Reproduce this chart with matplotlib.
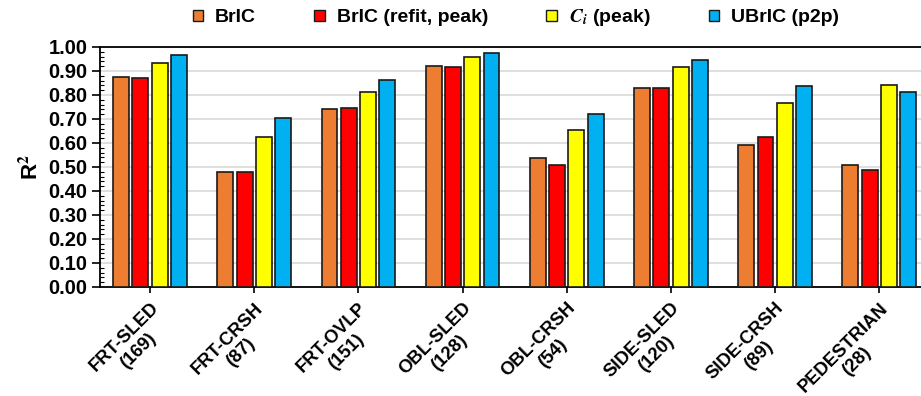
import matplotlib
matplotlib.use("Agg")
import matplotlib.pyplot as plt
import numpy as np
from matplotlib.patches import Patch
from matplotlib.ticker import MultipleLocator

plt.rcParams['font.family'] = ['Liberation Sans', 'DejaVu Sans']
plt.rcParams['font.weight'] = 'bold'
plt.rcParams['mathtext.fontset'] = 'stix'

categories = ["FRT-SLED\n(169)", "FRT-CRSH\n(87)", "FRT-OVLP\n(151)", "OBL-SLED\n(128)",
              "OBL-CRSH\n(54)", "SIDE-SLED\n(120)", "SIDE-CRSH\n(89)", "PEDESTRIAN\n(28)"]
series = ["BrIC", "BrIC (refit, peak)", "$C_i$ (peak)", "UBrIC (p2p)"]
bric = [0.876, 0.480, 0.740, 0.921, 0.539, 0.831, 0.592, 0.507]
bric_refit = [0.869, 0.480, 0.747, 0.915, 0.507, 0.831, 0.625, 0.488]
ci_peak = [0.935, 0.625, 0.811, 0.960, 0.656, 0.915, 0.765, 0.843]
ubric = [0.968, 0.703, 0.862, 0.974, 0.721, 0.947, 0.836, 0.811]
colors = ["#ED7D31", "#FF0000", "#FFFF00", "#00B0F0"]

fig = plt.figure(figsize=(9.21, 3.96), dpi=100)
ax = fig.add_axes([100/921, 109/396, 821/921, 240/396])

x = np.arange(len(categories))
pitch = 0.185
width = 0.153
for i, (vals, c) in enumerate(zip([bric, bric_refit, ci_peak, ubric], colors)):
    ax.bar(x + (i - 1.5) * pitch, vals, width, color=c, edgecolor="#1a1a1a",
           linewidth=1.2, zorder=3)

ax.set_xlim(-0.48, 7.40)
ax.set_ylim(0, 1.0)
ax.yaxis.set_major_locator(MultipleLocator(0.1))
ax.yaxis.set_minor_locator(MultipleLocator(0.02))
ax.set_yticklabels([f"{v:.2f}" for v in ax.get_yticks()], fontsize=14.5, fontweight='bold')
ax.tick_params(axis='y', which='major', direction='out', length=6, width=1.2, pad=3)
ax.tick_params(axis='y', which='minor', direction='in', length=3, width=0.8)
ax.set_xticks(x)
ax.set_xticklabels(categories, rotation=45, ha='right', rotation_mode='anchor',
                   fontsize=13.2, fontweight='bold', multialignment='center',
                   linespacing=1.2)
ax.tick_params(axis='x', direction='out', length=4, width=1.2, pad=5)
ax.grid(axis='y', color='#d9d9d9', linewidth=1.2, zorder=0)
ax.set_axisbelow(True)
ax.spines['right'].set_visible(False)
for s in ['left', 'bottom', 'top']:
    ax.spines[s].set_linewidth(1.3)
ax.set_ylabel("R$^2$", fontsize=16, fontweight='bold', labelpad=4)

handles = [Patch(facecolor=c, edgecolor="#1a1a1a", linewidth=1.0) for c in colors]
fig.legend(handles, series, loc='center', bbox_to_anchor=(0.56, 0.955), ncol=4,
           frameon=False, handlelength=0.55, handleheight=0.55,
           handletextpad=0.6, columnspacing=3.0,
           prop={'weight': 'bold', 'size': 14})

fig.savefig("out.png", dpi=100)
